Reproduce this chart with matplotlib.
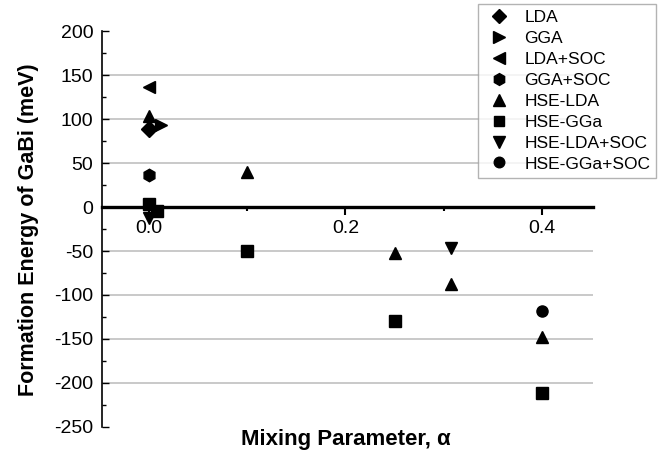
import matplotlib
matplotlib.use('Agg')
import matplotlib.pyplot as plt
from matplotlib.ticker import MultipleLocator

plt.rcParams['font.family'] = ['Liberation Sans', 'DejaVu Sans']
plt.rcParams['axes.unicode_minus'] = False

# -------------------------------
# Data
# -------------------------------
lda_x = [0.0]
lda_y = [89]

gga_x = [0.012]
gga_y = [93]

lda_soc_x = [0.0]
lda_soc_y = [137]

gga_soc_x = [0.0]
gga_soc_y = [36]

hse_lda_x = [0.0, 0.1, 0.25, 0.307, 0.4]
hse_lda_y = [104, 40, -52, -88, -148]

hse_gga_x = [0.0, 0.008, 0.1, 0.25, 0.4]
hse_gga_y = [4, -5, -50, -130, -212]

hse_lda_soc_x = [0.0, 0.307]
hse_lda_soc_y = [-12, -47]

hse_gga_soc_x = [0.4]
hse_gga_soc_y = [-118]

series = [
    ('LDA', lda_x, lda_y, 'D', 8),
    ('GGA', gga_x, gga_y, '>', 9),
    ('LDA+SOC', lda_soc_x, lda_soc_y, '<', 9),
    ('GGA+SOC', gga_soc_x, gga_soc_y, 'h', 9),
    ('HSE-LDA', hse_lda_x, hse_lda_y, '^', 9),
    ('HSE-GGa', hse_gga_x, hse_gga_y, 's', 8),
    ('HSE-LDA+SOC', hse_lda_soc_x, hse_lda_soc_y, 'v', 9),
    ('HSE-GGa+SOC', hse_gga_soc_x, hse_gga_soc_y, 'o', 8),
]

# -------------------------------
# Plot
# -------------------------------
fig = plt.figure(figsize=(6.68, 4.59), dpi=100)
ax = fig.add_axes([0.152, 0.070, 0.736, 0.862])

for label, xs, ys, mk, ms in series:
    ax.plot(xs, ys, linestyle='none', marker=mk, markersize=ms,
            color='black', label=label, zorder=3)

ax.set_xlim(-0.048, 0.452)
ax.set_ylim(-250, 200)

ax.spines['top'].set_visible(False)
ax.spines['right'].set_visible(False)
ax.spines['bottom'].set_position(('data', 0))
ax.spines['bottom'].set_linewidth(2.4)
ax.spines['left'].set_linewidth(1.2)

ax.xaxis.set_major_locator(MultipleLocator(0.2))
ax.xaxis.set_minor_locator(MultipleLocator(0.1))
ax.yaxis.set_major_locator(MultipleLocator(50))
ax.yaxis.set_minor_locator(MultipleLocator(25))
ax.xaxis.set_major_formatter(plt.FuncFormatter(lambda v, p: f'{v:.1f}'))

ax.tick_params(axis='x', which='major', direction='out', length=6, width=1.5,
               labelsize=14, pad=3)
ax.tick_params(axis='x', which='minor', direction='out', length=3, width=1.5)
ax.tick_params(axis='y', which='major', direction='in', length=5, width=1.0,
               labelsize=14, pad=6)
ax.tick_params(axis='y', which='minor', direction='in', length=3, width=1.0)

# horizontal grid, but not at the axis limits
ax.yaxis.grid(True, color='#c0c0c0', linewidth=1.2, zorder=0)
for val, gl in zip(ax.get_yticks(), ax.get_ygridlines()):
    if val >= 200 or val <= -250 or val == 0:
        gl.set_visible(False)

fig.text(0.042, 0.50, 'Formation Energy of GaBi (meV)', fontsize=15.5,
         fontweight='bold', rotation=90, ha='center', va='center')
fig.text(0.517, 0.042, 'Mixing Parameter, α', fontsize=16, fontweight='bold',
         ha='center', va='center')

leg = ax.legend(loc='upper left', bbox_to_anchor=(0.716, 0.991),
                bbox_transform=fig.transFigure, frameon=True, fancybox=False,
                fontsize=12.5, handletextpad=0.6, labelspacing=0.33,
                borderpad=0.35, handlelength=1.7, markerscale=0.95,
                borderaxespad=0)
leg.get_frame().set_edgecolor('#a0a0a0')
leg.get_frame().set_linewidth(1.0)
leg.set_zorder(5)

plt.savefig('out.png', dpi=100)
